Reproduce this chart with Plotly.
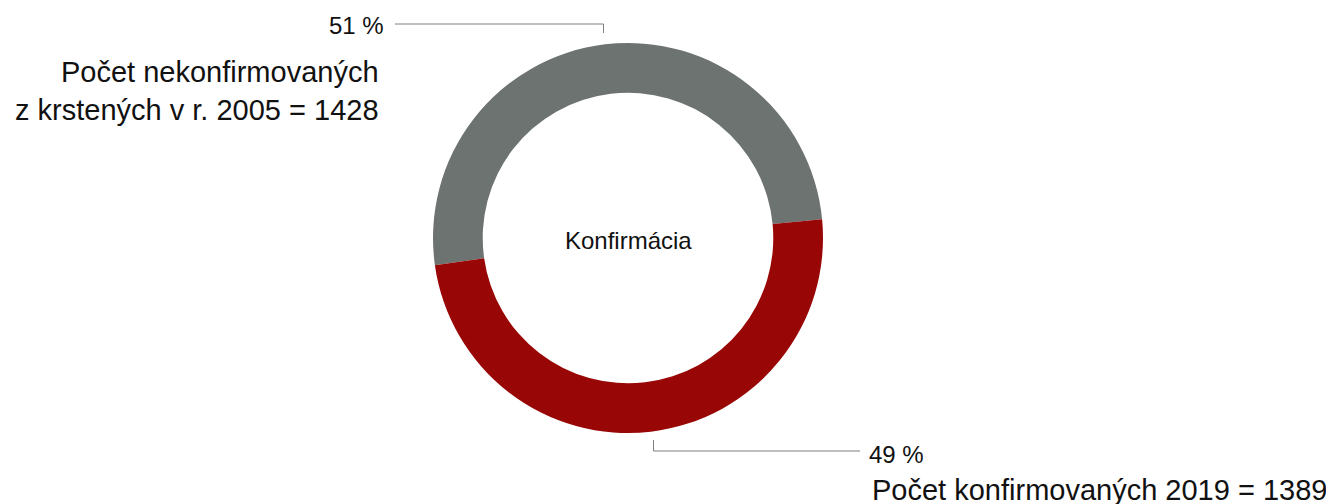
import plotly.graph_objects as go

W, H = 1334, 504
OFF = 8  # page body margin
FW, FH = W - OFF, H - OFF

labels = ["Počet nekonfirmovaných z krstených v r. 2005", "Počet konfirmovaných 2019"]
values = [1428, 1389]
colors = ["#6d7370", "#990606"]
pct_text = ["51 %", "49 %"]
center_title = "Konfirmácia"
font = "Liberation Sans, Arial, sans-serif"

def px(x):
    return (x - OFF) / FW

def py(y):
    return 1 - (y - OFF) / FH

fig = go.Figure(go.Pie(
    labels=labels, values=values, hole=0.745, sort=False,
    direction="clockwise", rotation=262,
    marker=dict(colors=colors, line=dict(width=0)),
    textinfo="none", hoverinfo="label+value+percent",
    domain=dict(x=[px(433), px(823)], y=[py(433), py(43)]),
    showlegend=False,
))

line_style = dict(color="#7f7f7f", width=1)
shapes = [
    dict(type="path", xref="paper", yref="paper",
         path=f"M {px(395)} {py(24)} L {px(603.5)} {py(24)} L {px(603.5)} {py(33)}",
         line=line_style),
    dict(type="path", xref="paper", yref="paper",
         path=f"M {px(653.5)} {py(440)} L {px(653.5)} {py(451)} L {px(860)} {py(451)}",
         line=line_style),
]

annotations = [
    dict(text=center_title, x=px(628), y=py(240), xref="paper", yref="paper",
         showarrow=False, font=dict(size=24, color="#111111", family=font)),
    dict(text=pct_text[0], x=px(386), y=py(25), xref="paper", yref="paper",
         xanchor="right", yanchor="middle", showarrow=False,
         font=dict(size=24, color="#111111", family=font)),
    dict(text="Počet nekonfirmovaných<br>z krstených v r. 2005 = " + str(values[0]),
         x=px(381), y=py(91), xref="paper", yref="paper",
         xanchor="right", yanchor="middle", align="right", showarrow=False,
         font=dict(size=29, color="#111111", family=font)),
    dict(text=pct_text[1], x=px(867), y=py(454), xref="paper", yref="paper",
         xanchor="left", yanchor="middle", showarrow=False,
         font=dict(size=24, color="#111111", family=font)),
    dict(text="Počet konfirmovaných 2019 = " + str(values[1]),
         x=px(870), y=py(490), xref="paper", yref="paper",
         xanchor="left", yanchor="middle", showarrow=False,
         font=dict(size=29, color="#111111", family=font)),
]

fig.update_layout(
    width=FW, height=FH, margin=dict(l=0, r=0, t=0, b=0),
    paper_bgcolor="white", plot_bgcolor="white",
    shapes=shapes, annotations=annotations,
    font=dict(family=font),
)
fig.write_html("out.html")
